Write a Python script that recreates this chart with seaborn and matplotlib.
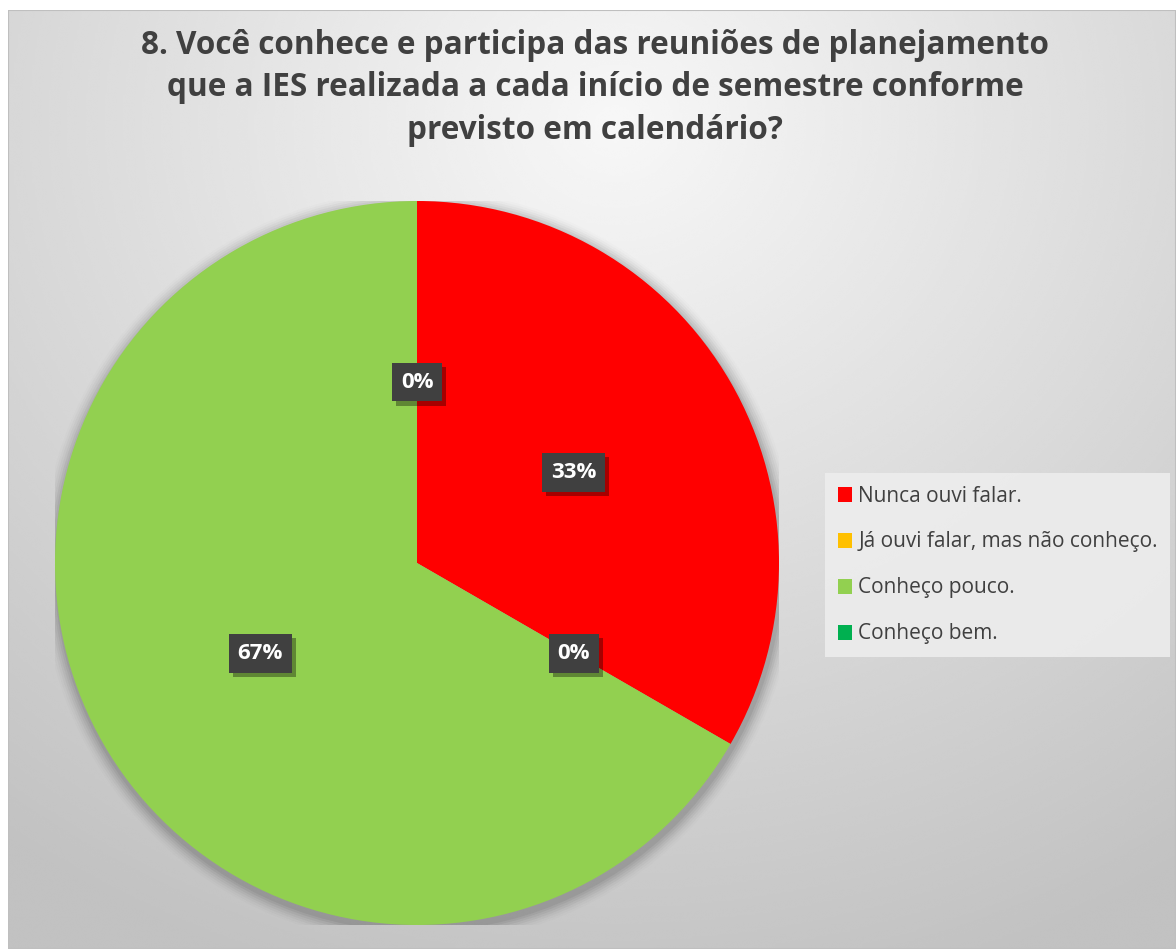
import numpy as np
import seaborn as sns
import matplotlib.pyplot as plt
import matplotlib.patheffects as pe
from matplotlib.patches import Patch, Rectangle

# data
categories = ['Nunca ouvi falar.', 'Já ouvi falar, mas não conheço.',
              'Conheço pouco.', 'Conheço bem.']
counts = [1, 0, 2, 0]
colors = ['#FF0000', '#FFC000', '#92D050', '#00B050']
title = ('8. Você conhece e participa das reuniões de planejamento\n'
         'que a IES realizada a cada início de semestre conforme\n'
         'previsto em calendário?')

sns.set_theme(style='white')
plt.rcParams['font.family'] = ['Open Sans', 'DejaVu Sans']

W, H = 1176, 949
fig = plt.figure(figsize=(W / 100, H / 100), dpi=100)
fig.patch.set_facecolor('white')

# radial grey background of the chart area
bg = fig.add_axes([8 / W, 0, 1 - 8 / W, 1 - 10 / H], zorder=0)
yy, xx = np.mgrid[0:1:400j, 0:1:500j]
d = np.sqrt(((xx - 0.52) * 1.1) ** 2 + ((yy - 0.12) * 1.0) ** 2)
shade = np.clip(0.97 - 0.22 * d, 0.76, 0.97)
bg.imshow(shade, cmap='gray', vmin=0, vmax=1, aspect='auto',
          extent=[0, 1, 1, 0], interpolation='bicubic')
bg.set_xlim(0, 1)
bg.set_ylim(1, 0)
bg.axis('off')
bg.add_patch(Rectangle((0, 0), 1, 1, transform=bg.transAxes, fill=False,
                       edgecolor='#BFBFBF', linewidth=1.5))

# pie
cx, cy, r = 417, 563, 362
ax = fig.add_axes([(cx - r) / W, (H - cy - r) / H, 2 * r / W, 2 * r / H], zorder=2)
ax.set_facecolor('none')

# soft shadow behind the pie
for i, a in enumerate(np.linspace(0.06, 0.01, 7)):
    ax.add_patch(plt.Circle((0.004, -0.012), 1.0 + 0.006 * (i + 1),
                            color='black', alpha=a, zorder=0, linewidth=0))

wedges, texts, autotexts = ax.pie(
    counts, colors=colors, startangle=90, counterclock=False,
    autopct=lambda p: f'{p:.0f}%', pctdistance=0.5,
    textprops=dict(color='white', fontsize=16, fontweight='bold'),
    wedgeprops=dict(linewidth=0))
for w in wedges:
    w.set_zorder(1)
for t in autotexts:
    t.set_zorder(5)
    t.set_bbox(dict(boxstyle='square,pad=0.4', facecolor='#404040',
                    edgecolor='none'))
    t.get_bbox_patch().set_path_effects(
        [pe.SimplePatchShadow(offset=(3, -3), shadow_rgbFace='black', alpha=0.35),
         pe.Normal()])
ax.set_xlim(-1, 1)
ax.set_ylim(-1, 1)
ax.set_aspect('equal')
ax.axis('off')

fig.text(595 / W, 1 - 88 / H, title, ha='center', va='center', fontsize=22.7,
         fontweight='bold', color='#404040', linespacing=1.38)

handles = [Patch(facecolor=c, edgecolor='none') for c in colors]
leg = fig.legend(handles, categories, loc='upper left',
                 bbox_to_anchor=(825 / W, 1 - 473 / H), frameon=True,
                 fancybox=False, fontsize=15, labelspacing=1.2,
                 handlelength=0.7, handleheight=0.7, handletextpad=0.3,
                 borderpad=0.6, borderaxespad=0)
leg.get_frame().set_facecolor('#EDEDED')
leg.get_frame().set_edgecolor('none')
leg.get_frame().set_alpha(0.9)
for t in leg.get_texts():
    t.set_color('#404040')
leg.set_zorder(6)

fig.savefig('out.png', dpi=100)
